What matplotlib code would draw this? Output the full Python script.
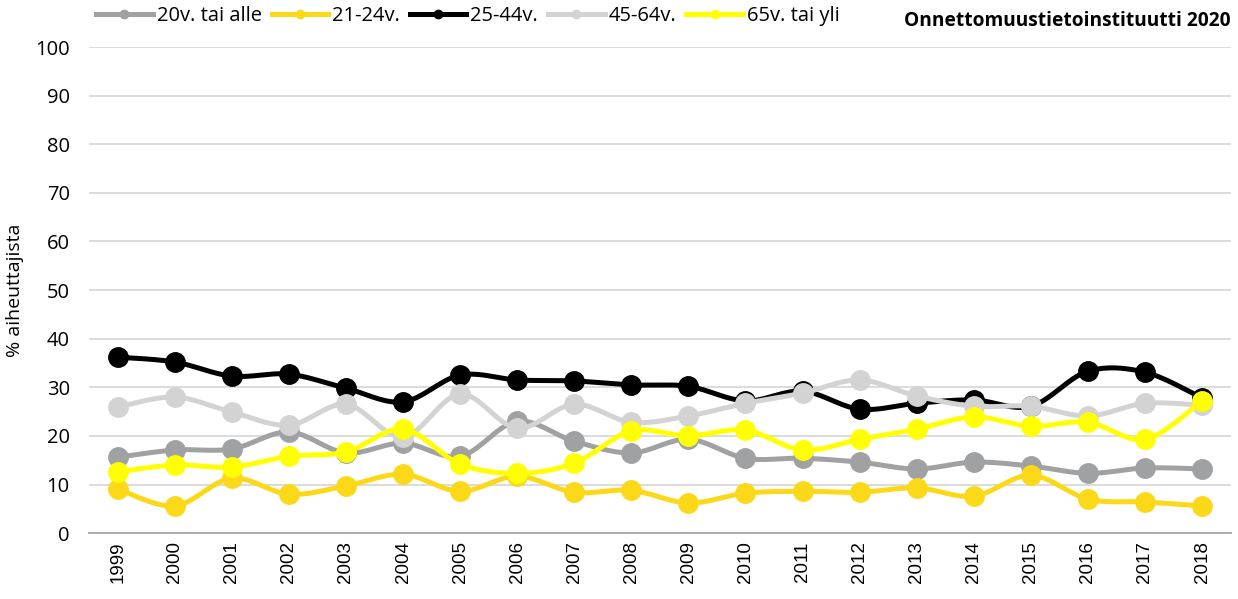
import numpy as np
import matplotlib
matplotlib.use('Agg')
import matplotlib.pyplot as plt
from matplotlib.lines import Line2D

years = list(range(1999, 2019))

labels = ['20v. tai alle', '21-24v.', '25-44v.', '45-64v.', '65v. tai yli']
colors = ['#a0a1a3', '#fcd918', '#000000', '#d3d3d3', '#ffff00']

age_20 = [15.6, 17.1, 17.3, 20.8, 16.5, 18.5, 15.8, 23.0, 18.9, 16.5,
          19.3, 15.4, 15.4, 14.6, 13.2, 14.6, 13.8, 12.3, 13.4, 13.2]
age_21_24 = [9.1, 5.6, 11.3, 8.0, 9.7, 12.1, 8.6, 11.7, 8.4, 8.8,
             6.2, 8.2, 8.6, 8.4, 9.3, 7.6, 11.9, 7.0, 6.4, 5.6]
age_25_44 = [36.2, 35.2, 32.3, 32.7, 29.8, 27.0, 32.5, 31.5, 31.3, 30.5,
             30.2, 27.2, 29.2, 25.5, 26.7, 27.4, 26.1, 33.3, 33.1, 27.8]
age_45_64 = [25.9, 28.0, 24.9, 22.2, 26.5, 19.8, 28.6, 21.6, 26.5, 22.8,
             24.1, 26.7, 28.8, 31.5, 28.2, 26.1, 26.1, 24.1, 26.7, 26.3]
age_65 = [12.6, 14.0, 13.6, 15.8, 16.7, 21.4, 14.2, 12.3, 14.4, 21.0,
          20.0, 21.2, 17.1, 19.3, 21.4, 23.9, 22.0, 22.8, 19.3, 27.2]

series = [age_20, age_21_24, age_25_44, age_45_64, age_65]


def smooth(x, y, steps=20, t=0.5):
    # catmull-rom style curve through the points, like excel "smoothed line"
    x = np.asarray(x, float)
    y = np.asarray(y, float)
    px = np.concatenate([[x[0]], x, [x[-1]]])
    py = np.concatenate([[y[0]], y, [y[-1]]])
    ox, oy = [], []
    for i in range(1, len(px) - 2):
        p0, p1, p2, p3 = (np.array([px[j], py[j]]) for j in (i - 1, i, i + 1, i + 2))
        c1 = p1 + (p2 - p0) * t / 3
        c2 = p2 - (p3 - p1) * t / 3
        s = np.linspace(0, 1, steps)[:, None]
        b = ((1 - s) ** 3) * p1 + 3 * ((1 - s) ** 2) * s * c1 + 3 * (1 - s) * s ** 2 * c2 + s ** 3 * p2
        ox.extend(b[:, 0])
        oy.extend(b[:, 1])
    return np.array(ox), np.array(oy)


plt.rcParams['font.family'] = ['Open Sans', 'DejaVu Sans']

fig = plt.figure(figsize=(12.38, 5.99), dpi=100)
ax = fig.add_axes([0.072, 0.110, 0.922, 0.8115])

xs = np.arange(len(years))
for i, (vals, c) in enumerate(zip(series, colors)):
    sx, sy = smooth(xs, vals)
    ax.plot(sx, sy, color=c, lw=3.6, zorder=3 + i, solid_capstyle='round')
    ax.plot(xs, vals, 'o', color=c, ms=14, zorder=3 + i)

ax.set_xlim(-0.5, len(years) - 0.5)
ax.set_ylim(0, 100)
ax.set_yticks(range(0, 101, 10))
ax.set_xticks(xs)
ax.set_xticklabels([str(y) for y in years], rotation=90, fontsize=13.5,
                   family=['Liberation Sans', 'DejaVu Sans'])
ax.tick_params(axis='y', labelsize=14.5, length=0, pad=14)
ax.tick_params(axis='x', length=0, pad=6)
ax.grid(axis='y', color='#d9d9d9', lw=1.3, zorder=0)
for s in ['top', 'right', 'left']:
    ax.spines[s].set_visible(False)
ax.spines['bottom'].set_color('#a6a6a6')
ax.spines['bottom'].set_linewidth(1.3)
ax.set_ylabel('% aiheuttajista', fontsize=14, labelpad=8)

handles = [Line2D([0], [0], color=c, lw=3.6, marker='o', ms=6) for c in colors]
fig.legend(handles, labels, loc='upper left', bbox_to_anchor=(0.063, 1.02), ncol=5,
           frameon=False, fontsize=14.5, handlelength=2.8, columnspacing=0.5,
           handletextpad=0.2)
fig.text(0.994, 0.965, 'Onnettomuustietoinstituutti 2020', ha='right', va='center',
         fontsize=13.8, fontweight='bold')

fig.savefig('out.png', dpi=100)
